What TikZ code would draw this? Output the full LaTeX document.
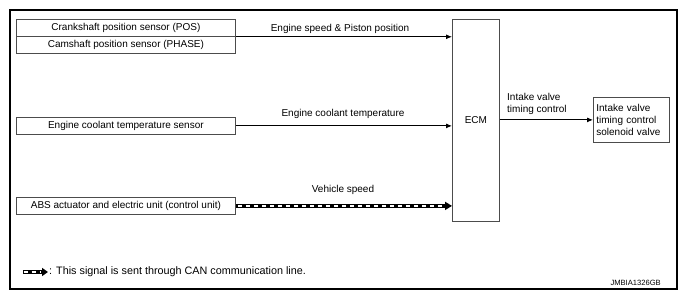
\documentclass[tikz,border=0pt]{standalone}
\usepackage{fontspec}
\setmainfont{Liberation Sans}
\usetikzlibrary{arrows.meta,calc}
\begin{document}
\begin{tikzpicture}[x=1pt,y=-1pt,
  box/.style={draw=black!70, line width=0.8pt, inner sep=0pt, anchor=north west, font=\fontsize{10}{12}\selectfont},
  sig/.style={draw=black, line width=0.9pt, -{Latex[length=6pt,width=5pt]}},
  lbl/.style={font=\fontsize{10}{12}\selectfont, inner sep=0pt},
  canouter/.style={draw=black, line width=4.4pt, -{Triangle[length=7pt,width=8pt]}},
  caninner/.style={draw=white, line width=1.8pt, dash pattern=on 4pt off 4pt}
]
\useasboundingbox (0,0) rectangle (685,300);
\draw[line width=2.4pt] (10,10) rectangle (677,289);

% boxes
\node[box, minimum width=219pt, minimum height=17pt] (crank) at (16,19) {Crankshaft position sensor (POS)};
\node[box, minimum width=219pt, minimum height=17pt] (cam) at (16,36) {Camshaft position sensor (PHASE)};
\node[box, minimum width=219pt, minimum height=17pt] (cool) at (16,117) {Engine coolant temperature sensor};
\node[box, minimum width=219pt, minimum height=17pt] (abs) at (16,197) {ABS actuator and electric unit (control unit)};
\node[box, minimum width=47pt, minimum height=202pt] (ecm) at (452,19) {ECM};
\node[box, minimum width=76pt, minimum height=45pt, align=left, text width=70pt, inner xsep=3pt] (sol) at (593,97) {Intake valve\\timing control\\solenoid valve};

% signals
\draw[sig] (crank.south east) -- (ecm.west |- crank.south east);
\node[lbl] (l1) at (340,29) {Engine speed \& Piston position};
\draw[sig] (cool.east) -- (ecm.west |- cool.east);
\node[lbl] (l2) at (343,114) {Engine coolant temperature};
\draw[canouter] (abs.east) -- (ecm.west |- abs.east);
\draw[caninner] ($(abs.east)+(2,0)$) -- ($(ecm.west |- abs.east)+(-9,0)$);
\node[lbl] (l3) at (343,190) {Vehicle speed};
\draw[sig] (ecm.east |- sol.west) -- (sol.west);
\node[lbl, anchor=north west, align=left] (l4) at (507,93) {Intake valve\\timing control};

% legend
\coordinate (lga) at (23,272);
\coordinate (lgb) at (48,272);
\draw[draw=black, line width=3.6pt, -{Triangle[length=6pt,width=8pt]}] (lga) -- (lgb);
\draw[draw=white, line width=1.4pt, dash pattern=on 4pt off 4pt] (23.5,272) -- (40,272);
\node[lbl, anchor=west, font=\fontsize{10.8}{13}\selectfont] (leg) at (49,272) {: This signal is sent through CAN communication line.};
\node[lbl, anchor=east, font=\fontsize{7.6}{9}\selectfont] (code) at (661,283) {JMBIA1326GB};
\end{tikzpicture}
\end{document}
